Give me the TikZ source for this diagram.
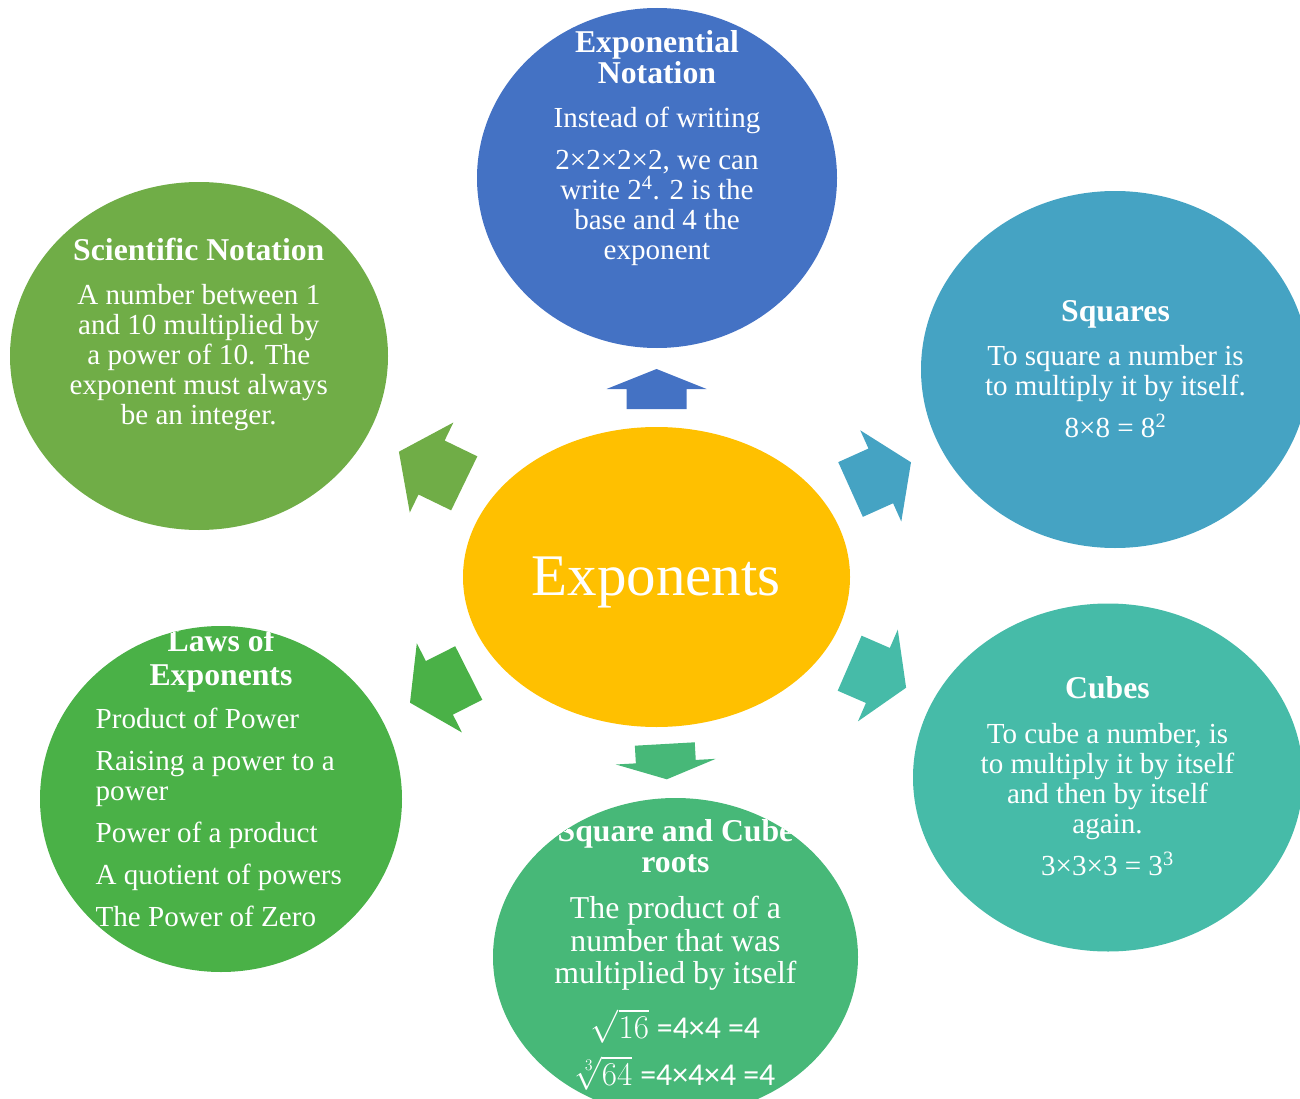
\documentclass[tikz,border=0pt]{standalone}
\usepackage{fontspec}
\setmainfont{Liberation Serif}
\newfontfamily\carl{Carlito}
\usetikzlibrary{shapes.geometric,calc}
\definecolor{cGold}{HTML}{FFC000}
\definecolor{cBlue}{HTML}{4472C4}
\definecolor{cSq}{HTML}{45A3C3}
\definecolor{cCu}{HTML}{46BBA8}
\definecolor{cRt}{HTML}{47B878}
\definecolor{cLw}{HTML}{4AB147}
\definecolor{cSc}{HTML}{70AD47}
\newcommand\hdfont{\normalfont\fontsize{23.8pt}{23.25pt}\selectfont\bfseries}
\newcommand\bdfont{\normalfont\fontsize{21.8pt}{22.5pt}\selectfont}
\newcommand\rtfont{\normalfont\fontsize{23.85pt}{24.4pt}\selectfont}
\lineskiplimit=-100pt
\lineskip=0pt
\newcommand\blockarr[3]{%
  \coordinate (bh) at ($(#2)!0.5!(#3)$);
  \fill[#1] ($(#2)!22.5pt!90:(#3)$) -- ($(bh)!22.5pt!90:(#3)$) -- ($(bh)!37.5pt!90:(#3)$)
    -- (#3) -- ($(bh)!37.5pt!-90:(#3)$) -- ($(bh)!22.5pt!-90:(#3)$) -- ($(#2)!22.5pt!-90:(#3)$) -- cycle;}
\begin{document}
\begin{tikzpicture}[x=0.75pt,y=-0.75pt,
  ell/.style={ellipse, inner sep=0pt, outer sep=0pt, draw=none},
  txt/.style={text=white, inner sep=0pt, outer sep=0pt, anchor=base}]
\useasboundingbox (0,0) rectangle (1300,1099);
\begin{scope}
\clip (0,0) rectangle (1300,1099);
% circles
\node[ell, fill=cGold, minimum width=290.25pt, minimum height=225pt] (ctr) at (656.5,577) {};
\node[ell, fill=cBlue, minimum width=270pt, minimum height=255pt] (exp) at (657,178) {};
\node[ell, fill=cSq, minimum width=291pt, minimum height=267.75pt] (sq) at (1115,369.5) {};
\node[ell, fill=cCu, minimum width=292.5pt, minimum height=261pt] (cu) at (1108,777.5) {};
\node[ell, fill=cRt, minimum width=273.75pt, minimum height=238.5pt] (rt) at (675.5,957) {};
\node[ell, fill=cLw, minimum width=271.5pt, minimum height=259.5pt] (lw) at (221,799) {};
\node[ell, fill=cSc, minimum width=283.5pt, minimum height=261pt] (sc) at (199,356) {};
% block arrows
\coordinate (tExp) at (656.5,409); \coordinate (pExp) at (656.5,369);
\coordinate (tSc) at (464.25,483.35); \coordinate (pSc) at (398.9,451.7);
\coordinate (tSq) at (850.55,489.5); \coordinate (pSq) at (911,462.3);
\coordinate (tCu) at (849.65,663.2); \coordinate (pCu) at (906.1,687.7);
\coordinate (tLw) at (468.75,673); \coordinate (pLw) at (410,702.7);
\coordinate (tRt) at (664.8,744); \coordinate (pRt) at (666.8,779.3);
\blockarr{cBlue}{tExp}{pExp}
\blockarr{cSc}{tSc}{pSc}
\blockarr{cSq}{tSq}{pSq}
\blockarr{cCu}{tCu}{pCu}
\blockarr{cLw}{tLw}{pLw}
\blockarr{cRt}{tRt}{pRt}
% center text
\node[txt, font=\fontsize{44.25pt}{50pt}\selectfont] (ctrT) at (656,595) {Exponents};
% exponential notation
\begin{scope}
\path[clip] (exp.center) ellipse [x radius=135pt, y radius=127.5pt];
\node[txt] (expT) at (657,53) {\parbox[t]{300pt}{\centering\hdfont Exponential\\Notation\par
  \vspace{10.5pt}\bdfont Instead of writing\par
  \vspace{9pt}2×2×2×2, we can\\write 2\textsuperscript{4}. 2 is the\\base and 4 the\\exponent\par}};
\end{scope}
% squares
\begin{scope}
\path[clip] (sq.center) ellipse [x radius=145.5pt, y radius=133.875pt];
\node[txt] (sqT) at (1115.5,321.7) {\parbox[t]{300pt}{\centering\hdfont Squares\par
  \vspace{10pt}\bdfont To square a number is\\to multiply it by itself.\par
  \vspace{9pt}8×8 = 8\textsuperscript{2}\par}};
\end{scope}
% cubes
\begin{scope}
\path[clip] (cu.center) ellipse [x radius=146.25pt, y radius=130.5pt];
\node[txt] (cuT) at (1107.5,698.3) {\parbox[t]{300pt}{\centering\hdfont Cubes\par
  \vspace{11.25pt}\bdfont To cube a number, is\\to multiply it by itself\\and then by itself\\again.\par
  \vspace{9pt}3×3×3 = 3\textsuperscript{3}\par}};
\end{scope}
% roots
\begin{scope}
\path[clip] (rt.center) ellipse [x radius=136.875pt, y radius=119.25pt];
\node[txt] (rtT) at (675.5,841) {\parbox[t]{300pt}{\centering\hdfont Square and Cube\\roots\par
  \vspace{10.6pt}\rtfont The product of a\\number that was\\multiplied by itself\par
  \vspace{12.9pt}$\sqrt{16}$ {\carl =4×4 =4}\par
  \vspace{8.4pt}$\sqrt[3]{64}$ {\carl =4×4×4 =4}\par}};
\end{scope}
% laws
\begin{scope}
\path[clip] (lw.center) ellipse [x radius=135.75pt, y radius=129.75pt];
\node[txt] (lwH) at (221,651.7) {\parbox[t]{300pt}{\centering\hdfont Laws of\\[1.75pt]Exponents\par}};
\node[txt, anchor=base west] (lwB) at (95.7,728.3) {\parbox[t]{280pt}{\raggedright\bdfont Product of Power\par
  \vspace{9pt}Raising a power to a\\power\par
  \vspace{9pt}Power of a product\par
  \vspace{9pt}A quotient of powers\par
  \vspace{9pt}The Power of Zero\par}};
\end{scope}
% scientific
\begin{scope}
\path[clip] (sc.center) ellipse [x radius=141.75pt, y radius=130.5pt];
\node[txt] (scT) at (198.8,260.7) {\parbox[t]{300pt}{\centering\hdfont Scientific Notation\par
  \vspace{10.7pt}\bdfont A number between 1\\and 10 multiplied by\\a power of 10. The\\exponent must always\\be an integer.\par}};
\end{scope}
\end{scope}
\end{tikzpicture}
\end{document}
